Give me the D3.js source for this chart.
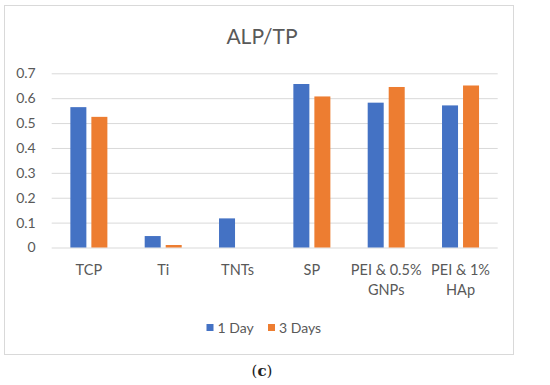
<!DOCTYPE html>
<html>
<head>
<script src="https://d3js.org/d3.v7.min.js"></script>
<style>
body { margin: 0; background: white; }
text { font-family: Lato, "Open Sans", sans-serif; fill: #595959; }
</style>
</head>
<body>
<svg width="550" height="385"></svg>
<script>
var categories = [["TCP"], ["Ti"], ["TNTs"], ["SP"], ["PEI & 0.5%", "GNPs"], ["PEI & 1%", "HAp"]];
var series = ["1 Day", "3 Days"];
var day1 = [0.564, 0.046, 0.117, 0.657, 0.582, 0.571];
var day3 = [0.525, 0.010, 0, 0.607, 0.645, 0.651];
var yTicks = [0, 0.1, 0.2, 0.3, 0.4, 0.5, 0.6, 0.7];
var colors = ["#4472C4", "#ED7D31"];

var svg = d3.select("svg");
var names = categories.map(function(c) { return c.join(" "); });

// chart frame
svg.append("rect")
  .attr("x", 4.5).attr("y", 5.5).attr("width", 509).attr("height", 349)
  .attr("fill", "white").attr("stroke", "#d9d9d9");

var x0 = d3.scaleBand().domain(names).range([51.7, 497.7]);
var x1 = d3.scaleBand().domain(series).range([0, x0.bandwidth()])
  .paddingInner(0.238).paddingOuter(0.888);
var y = d3.scaleLinear().domain([0, 0.7]).range([247.5, 73.3]);

// gridlines + y labels
var yAxis = svg.append("g")
  .attr("transform", "translate(51.7,0)")
  .call(d3.axisLeft(y).tickValues(yTicks).tickSize(-446).tickPadding(16)
    .tickFormat(function(d) { return d === 0 ? "0" : d3.format(".1f")(d); }));
yAxis.select(".domain").remove();
yAxis.selectAll("line").attr("stroke", "#d9d9d9");
yAxis.selectAll("text").style("font-size", "14px").attr("fill", "#595959")
  .style("font-family", "Lato, sans-serif");

// bars
var rows = names.map(function(n, i) { return { name: n, vals: [day1[i], day3[i]] }; });
var groups = svg.append("g").selectAll("g").data(rows).enter().append("g")
  .attr("transform", function(d) { return "translate(" + x0(d.name) + ",0)"; });
groups.selectAll("rect").data(function(d) { return d.vals.map(function(v, j) { return { s: series[j], v: v, j: j }; }); })
  .enter().append("rect")
  .attr("x", function(d) { return x1(d.s); })
  .attr("width", x1.bandwidth())
  .attr("y", function(d) { return y(d.v); })
  .attr("height", function(d) { return y(0) - y(d.v); })
  .attr("fill", function(d) { return colors[d.j]; });

// x labels
var xl = svg.append("g").selectAll("text").data(categories).enter().append("text")
  .attr("x", function(d, i) { return x0(names[i]) + x0.bandwidth() / 2; })
  .attr("y", 275)
  .attr("text-anchor", "middle")
  .style("font-size", "14.5px");
xl.selectAll("tspan").data(function(d) { return d; }).enter().append("tspan")
  .attr("x", function() { return d3.select(this.parentNode).attr("x"); })
  .attr("dy", function(d, i) { return i === 0 ? 0 : 20; })
  .text(function(d) { return d; });

// title
svg.append("text").attr("x", 262).attr("y", 44).attr("text-anchor", "middle")
  .style("font-size", "21px").text("ALP/TP");

// legend
var legX = [206.5, 268];
series.forEach(function(s, i) {
  svg.append("rect").attr("x", legX[i]).attr("y", 324).attr("width", 7).attr("height", 7).attr("fill", colors[i]);
  svg.append("text").attr("x", legX[i] + 11).attr("y", 332.5).style("font-size", "14px").text(s);
});

// caption
var cap = svg.append("text").attr("x", 262).attr("y", 376).attr("text-anchor", "middle")
  .style("font-family", "'DejaVu Serif', serif").style("font-size", "15px").style("fill", "#222");
cap.append("tspan").text("(");
cap.append("tspan").style("font-weight", "bold").text("c");
cap.append("tspan").text(")");
</script>
</body>
</html>
